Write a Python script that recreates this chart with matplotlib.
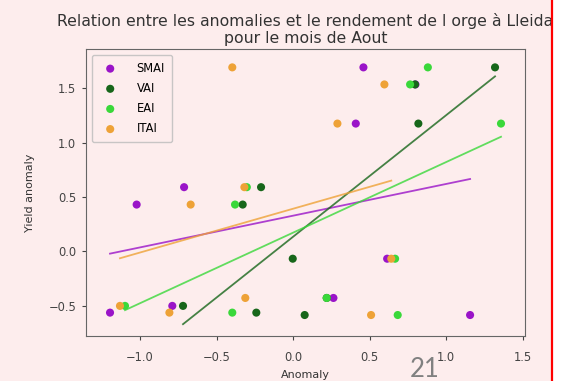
import matplotlib
matplotlib.use("Agg")
import matplotlib.pyplot as plt
import numpy as np
from matplotlib.patches import Rectangle
from matplotlib.lines import Line2D

# yield anomaly, one value per year (shared by every index)
yield_anom = [1.693, 1.536, 1.176, 0.591, 0.431, -0.067, -0.428, -0.501, -0.563, -0.585]

# index anomalies for the same years
smai = [0.460, 0.800, 0.410, -0.712, -1.022, 0.615, 0.264, -0.789, -1.196, 1.157]
vai  = [1.320, 0.797, 0.819, -0.209, -0.329, -0.002, 0.220, -0.719, -0.240, 0.076]
eai  = [0.881, 0.765, 1.359, -0.302, -0.379, 0.667, 0.220, -1.098, -0.397, 0.684]
itai = [-0.397, 0.597, 0.290, -0.318, -0.669, 0.642, -0.312, -1.131, -0.808, 0.510]

names = ["SMAI", "VAI", "EAI", "ITAI"]
series = [smai, vai, eai, itai]
colors = ["#9a14c8", "#17661a", "#3ad83a", "#eea237"]

bg = "#fdeded"

fig = plt.figure(figsize=(5.76, 3.81), dpi=100)
fig.patch.set_facecolor(bg)
ax = fig.add_axes([0.1493, 0.1181, 0.7622, 0.7533])
ax.set_facecolor(bg)

y = np.array(yield_anom)
for name, xs, c in zip(names, series, colors):
    xs = np.array(xs)
    ax.scatter(xs, y, s=34, color=c, edgecolor="none", label=name, zorder=3)

# least-squares fit of each index, drawn over its own x range
for xs, c in zip(series, colors):
    xs = np.array(xs)
    slope, icpt = np.polyfit(xs, y, 1)
    xx = np.array([xs.min(), xs.max()])
    ax.plot(xx, slope * xx + icpt, color=c, lw=1.3, alpha=0.8, zorder=4)

ax.set_xlim(-1.353, 1.516)
ax.set_ylim(-0.778, 1.862)
ax.set_xticks([-1.0, -0.5, 0.0, 0.5, 1.0, 1.5])
ax.set_yticks([-0.5, 0.0, 0.5, 1.0, 1.5])
ax.tick_params(labelsize=8.3, colors="#444444", length=3)
ax.tick_params(axis="x", pad=8)
ax.tick_params(axis="y", pad=4)
for sp in ax.spines.values():
    sp.set_color("#666666")

ax.set_xlabel("Anomaly", fontsize=8, color="#333333", labelpad=4)
ax.set_ylabel("Yield anomaly", fontsize=8, color="#333333", labelpad=10)
ax.set_title("Relation entre les anomalies et le rendement de l orge à Lleida\n"
             "pour le mois de Aout", fontsize=11.3, color="#333333", pad=4)

leg = ax.legend(loc="upper left", fontsize=8.3, frameon=True, borderpad=0.6,
                labelspacing=0.62, handletextpad=1.3, scatterpoints=1,
                bbox_to_anchor=(0.0, 1.0))
leg.get_frame().set_facecolor(bg)
leg.get_frame().set_edgecolor("#bbbbbb")

# slide margin: white strip with red rule, and page number
fig.patches.append(Rectangle((551.5 / 576, 0), 1 - 551.5 / 576, 1,
                             transform=fig.transFigure, facecolor="white",
                             edgecolor="none", zorder=5))
fig.lines.append(Line2D([551.5 / 576, 551.5 / 576], [0, 1],
                        transform=fig.transFigure, color="#ff0000", lw=1.6,
                        zorder=6))
fig.text(410 / 576, 4 / 381, "21", fontsize=18.5, family="Lato",
         color="#808080", ha="left", va="baseline")

fig.savefig("out.png", dpi=100, facecolor=fig.get_facecolor())
